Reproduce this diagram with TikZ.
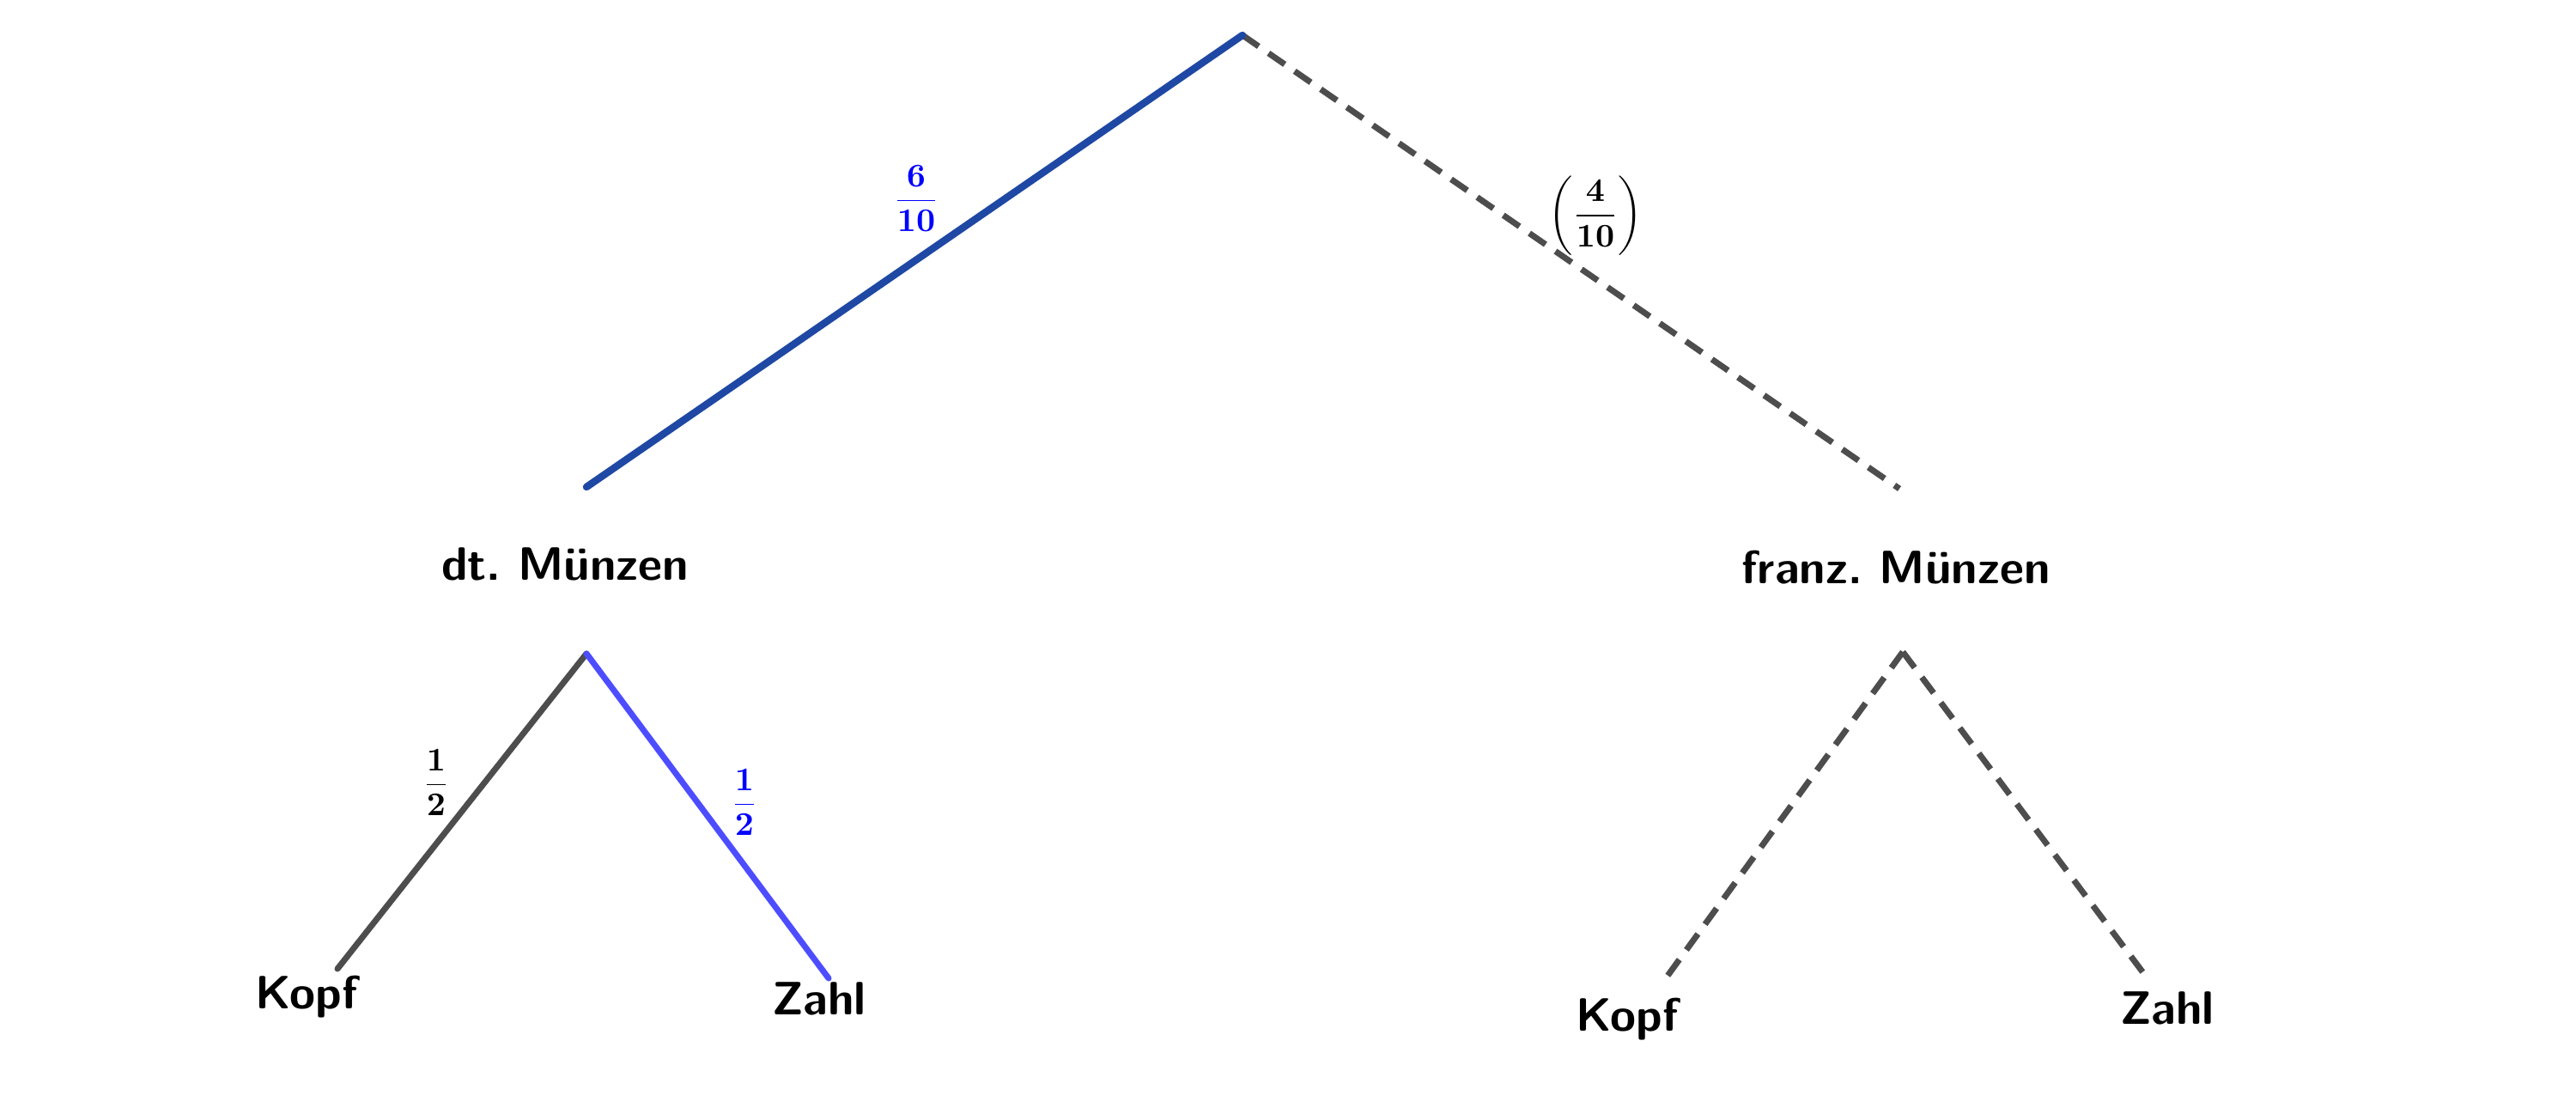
\documentclass[tikz,border=0pt]{standalone}
\usepackage{amsmath}
\definecolor{dunkelblau}{RGB}{30,72,164}
\definecolor{hellblau}{RGB}{77,77,255}
\definecolor{grau}{RGB}{77,77,77}
\tikzset{
  ast/.style={line width=2pt, line cap=round, grau},
  pfad/.style={line width=2pt, line cap=round, hellblau},
  haupt/.style={line width=2.4pt, line cap=round, dunkelblau},
  offen/.style={line width=2pt, grau, dash pattern=on 6.5pt off 4pt},
  wort/.style={anchor=base, inner sep=0pt, font=\fontsize{15.5}{18}\selectfont\sffamily\bfseries},
  zahl/.style={inner sep=0pt, font=\fontsize{11}{13}\selectfont}
}
\frenchspacing
\begin{document}
\begin{tikzpicture}
      \useasboundingbox (0,0) rectangle (30,12.96);
      \draw
        (14.47,12.55) coordinate (0)
        (6.83,7.29) coordinate (1)
        (22.12,7.27) coordinate (2)
        (6.83,5.35) coordinate (3)
        (22.16,5.37) coordinate (4)
        (3.93,1.68) coordinate (5)
        (9.65,1.57) coordinate (6)
        (19.37,1.53) coordinate (7)
        (24.97,1.62) coordinate (8);
      \node[wort] (dt) at (6.58,6.20) {dt. Münzen};
      \node[wort] (fr) at (22.08,6.16) {franz. Münzen};
      \node[wort] (kd) at (3.57,1.22) {Kopf};
      \node[wort] (zd) at (9.54,1.15) {Zahl};
      \node[wort] (kf) at (18.95,0.96) {Kopf};
      \node[wort] (zf) at (25.24,1.04) {Zahl};
      \node[zahl, blue] (p1) at (10.67,10.65) {$\dfrac{\mathbf{6}}{\mathbf{10}}$};
      \node[zahl] (p2) at (18.58,10.45) {$\left(\dfrac{\mathbf{4}}{\mathbf{10}}\right)$};
      \node[zahl] (p3) at (5.08,3.85) {$\dfrac{\mathbf{1}}{\mathbf{2}}$};
      \node[zahl, blue] (p4) at (8.67,3.62) {$\dfrac{\mathbf{1}}{\mathbf{2}}$};
      \begin{scope}
        \draw[offen] (0) to (2);
        \draw[haupt] (0) to (1);
        \draw[ast] (3) to (5);
        \draw[pfad] (3) to (6);
        \draw[offen] (4) to (7);
        \draw[offen] (4) to (8);
      \end{scope}
    \end{tikzpicture}
\end{document}
